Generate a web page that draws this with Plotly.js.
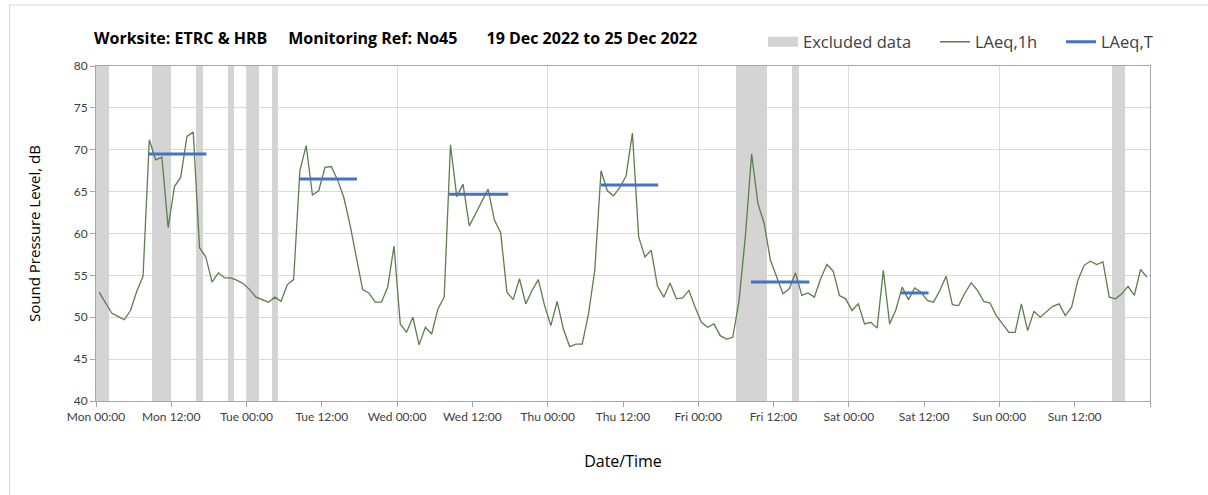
<!DOCTYPE html>
<html>
<head>
<meta charset="utf-8">
<script src="https://cdn.plot.ly/plotly-3.0.1.min.js"></script>
<style>html,body{margin:0;padding:0;background:#fff;}#chart{width:1208px;height:495px;}</style>
</head>
<body>
<div id="chart"></div>
<script>
// Hourly LAeq,1h values (hours since Mon 00:00, plotted at mid-hour)
const hourIndex = Array.from({length: 168}, (_, i) => i + 0.5);
const laeq1h = [
  53.0, 51.8, 50.5, 50.1, 49.7, 50.8, 53.1, 54.9, 71.2, 68.8, 69.1, 60.7,
  65.6, 66.7, 71.6, 72.1, 58.3, 57.2, 54.2, 55.3, 54.7, 54.7, 54.4, 54.0,
  53.3, 52.4, 52.1, 51.8, 52.4, 51.9, 53.9, 54.5, 67.5, 70.5, 64.6, 65.1,
  67.9, 68.0, 66.4, 64.3, 61.0, 57.2, 53.3, 52.9, 51.8, 51.8, 53.6, 58.5,
  49.2, 48.2, 50.0, 46.7, 48.8, 48.0, 51.0, 52.4, 70.6, 64.4, 65.9, 60.9,
  62.4, 63.8, 65.3, 61.6, 60.1, 53.0, 52.1, 54.6, 51.6, 53.2, 54.5, 51.4,
  49.0, 51.9, 48.6, 46.5, 46.8, 46.8, 50.4, 55.6, 67.5, 65.1, 64.5, 65.5,
  66.9, 72.0, 59.6, 57.2, 58.0, 53.7, 52.4, 54.1, 52.2, 52.3, 53.2, 51.2,
  49.4, 48.8, 49.2, 47.8, 47.4, 47.6, 52.0, 59.6, 69.5, 63.6, 61.2, 56.8,
  54.8, 52.8, 53.4, 55.3, 52.6, 52.9, 52.4, 54.6, 56.3, 55.5, 52.6, 52.2,
  50.8, 51.6, 49.2, 49.4, 48.7, 55.6, 49.2, 50.9, 53.6, 52.1, 53.5, 53.0,
  52.0, 51.8, 53.2, 54.9, 51.5, 51.4, 52.9, 54.1, 53.2, 51.9, 51.7, 50.2,
  49.2, 48.2, 48.2, 51.6, 48.4, 50.7, 50.0, 50.6, 51.3, 51.6, 50.2, 51.2,
  54.4, 56.2, 56.7, 56.3, 56.6, 52.4, 52.2, 52.8, 53.7, 52.6, 55.7, 54.8
];

// LAeq,T period averages
const periodStart = [8.3, 32.4, 56.2, 80.5, 104.4, 128.3];
const periodEnd   = [17.6, 41.6, 65.7, 89.6, 113.7, 132.7];
const periodLevel = [69.5, 66.5, 64.7, 65.8, 54.2, 52.9];

// Excluded data periods (hours)
const excludedStart = [0, 9, 16, 21, 24, 28, 102, 111, 162];
const excludedEnd   = [2, 12, 17, 22, 26, 29, 107, 112, 164];

// X axis tick labels (every 12 h)
const tickHours = [0, 12, 24, 36, 48, 60, 72, 84, 96, 108, 120, 132, 144, 156, 168];
const tickLabels = ["Mon 00:00", "Mon 12:00", "Tue 00:00", "Tue 12:00", "Wed 00:00", "Wed 12:00",
  "Thu 00:00", "Thu 12:00", "Fri 00:00", "Fri 12:00", "Sat 00:00", "Sat 12:00",
  "Sun 00:00", "Sun 12:00", ""];
const gridHours = [24, 48, 72, 96, 120, 144];

const yMin = 40, yMax = 80;

const bandX = excludedStart.map((s, i) => (s + excludedEnd[i]) / 2);
const bandW = excludedStart.map((s, i) => excludedEnd[i] - s);

const tX = [], tY = [];
periodStart.forEach((s, i) => { tX.push(s, periodEnd[i], null); tY.push(periodLevel[i], periodLevel[i], null); });

const FONT = "Lato, 'Open Sans', sans-serif";
const FONT2 = "'Open Sans', Lato, sans-serif";
const GREY = '#d4d4d4';

const traces = [
  {
    type: 'bar', name: 'Excluded data', showlegend: false,
    x: bandX, width: bandW, y: bandX.map(() => yMax - yMin), base: yMin,
    marker: {color: GREY, line: {width: 0}},
    hoverinfo: 'skip'
  },
  {
    // legend entry for the excluded bands (wide grey box like the original)
    type: 'scatter', mode: 'lines', name: 'Excluded data', legend: 'legend',
    x: [null], y: [null],
    line: {color: GREY, width: 13}
  },
  {
    type: 'scatter', mode: 'lines', name: 'LAeq,1h', legend: 'legend2',
    x: hourIndex, y: laeq1h,
    line: {color: '#5e7d4e', width: 1.3}
  },
  {
    type: 'scatter', mode: 'lines', name: 'LAeq,T', legend: 'legend3',
    x: tX, y: tY, connectgaps: false,
    line: {color: '#4472c4', width: 3}
  }
];

function px2paperX(px) { return (px - 96) / 1054; }
const legY = 1 + (66 - 42) / 335;
const legCommon = {
  orientation: 'h', xanchor: 'left', y: legY, yanchor: 'middle',
  font: {family: FONT2, size: 16.5, color: '#404040'},
  bgcolor: 'rgba(0,0,0,0)', itemwidth: 30
};

const SP = '\u00a0';
const titleText = 'Worksite: ETRC &amp; HRB' + SP.repeat(5) + 'Monitoring Ref: No45' + SP.repeat(7) + '19 Dec 2022 to 25 Dec 2022';

const layout = {
  width: 1208, height: 495,
  margin: {l: 96, r: 58, t: 66, b: 94},
  paper_bgcolor: '#ffffff', plot_bgcolor: '#ffffff',
  font: {family: FONT, color: '#404040'},
  showlegend: true,
  bargap: 0,
  title: {
    text: titleText,
    font: {family: FONT2, size: 16, color: '#000000', weight: 'bold'},
    x: 94 / 1208, xanchor: 'left', xref: 'container',
    y: 1 - 38 / 495, yanchor: 'middle', yref: 'container'
  },
  legend:  Object.assign({}, legCommon, {x: px2paperX(763)}),
  legend2: Object.assign({}, legCommon, {x: px2paperX(935)}),
  legend3: Object.assign({}, legCommon, {x: px2paperX(1061)}),
  xaxis: {
    range: [0, 168], type: 'linear',
    tickmode: 'array', tickvals: tickHours, ticktext: tickLabels,
    ticks: 'outside', ticklen: 5, tickcolor: '#a6a6a6', tickwidth: 1,
    showgrid: false, zeroline: false,
    showline: true, linecolor: '#a6a6a6', linewidth: 1, mirror: true,
    tickfont: {family: FONT, size: 12, color: '#404040'},
    minor: {tickmode: 'array', tickvals: gridHours, showgrid: true, gridcolor: '#dcdcdc', gridwidth: 1, ticks: ''},
    title: {text: 'Date/Time', font: {family: FONT2, size: 16, color: '#000000'}, standoff: 32}
  },
  yaxis: {
    range: [yMin, yMax], dtick: 5, tick0: 40,
    ticks: 'outside', ticklen: 5, tickcolor: '#a6a6a6',
    showgrid: true, gridcolor: '#d9d9d9', gridwidth: 1, zeroline: false,
    showline: true, linecolor: '#a6a6a6', linewidth: 1, mirror: true,
    tickfont: {family: FONT, size: 12, color: '#404040'},
    title: {text: 'Sound Pressure Level, dB', font: {family: FONT2, size: 15, color: '#000000'}, standoff: 29}
  },
  shapes: [
    {type: 'rect', xref: 'paper', yref: 'paper', x0: -0.082, x1: 1.2, y0: -0.5, y1: 1.182,
     line: {color: '#d9d9d9', width: 1}, fillcolor: 'rgba(0,0,0,0)', layer: 'below'}
  ]
};

Plotly.newPlot('chart', traces, layout, {displayModeBar: false, staticPlot: true});
</script>
</body>
</html>
